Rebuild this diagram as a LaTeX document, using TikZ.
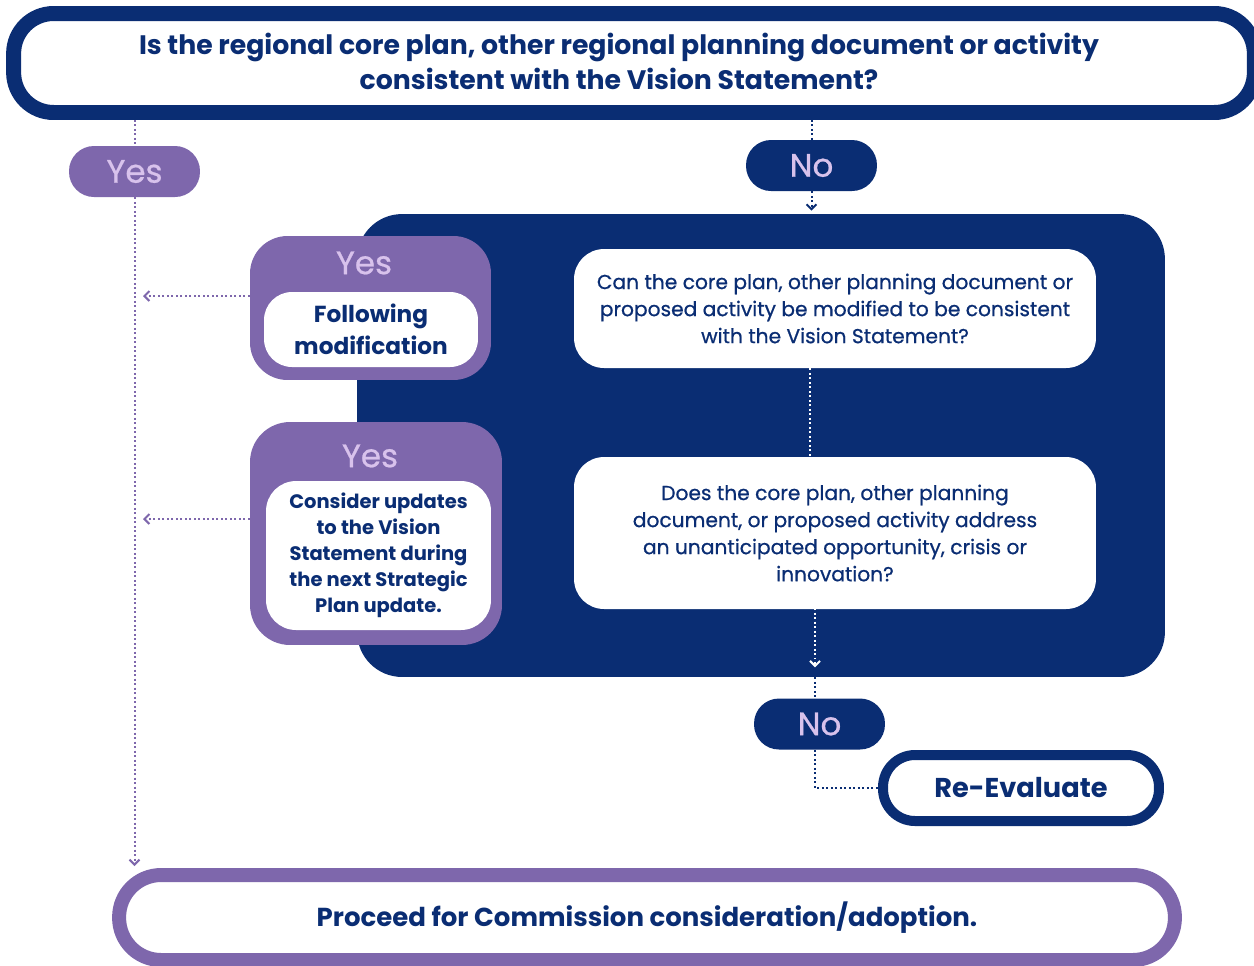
\documentclass[tikz,border=0pt]{standalone}
\usepackage{fontspec}
\setmainfont{Poppins}
\usetikzlibrary{arrows.meta,calc}
\definecolor{navy}{HTML}{0A2D73}
\definecolor{plum}{HTML}{7E67AC}
\definecolor{lilac}{HTML}{D8C2EC}

\begin{document}
\begin{tikzpicture}[x=0.02cm, y=-0.02cm,
    every node/.style={align=center, text=navy, inner sep=0pt},
    medium/.style={font=\fontsize{#1}{18}\selectfont\addfontfeature{FakeBold=0.7}},
    pill/.style={rounded corners=0.5cm, minimum width=2.62cm, minimum height=1.02cm, text=lilac, medium=18.5},
    question/.style={fill=white, rounded corners=0.6cm, minimum width=10.44cm, font=\fontsize{11.5}{15.4}\selectfont\addfontfeature{FakeBold=0.7}},
    yesbox/.style={fill=plum, rounded corners=0.75cm},
    inner/.style={fill=white, rounded corners=0.56cm, font=\bfseries},
    dots/.style={line width=0.04cm, dash pattern=on 0.04cm off 0.05cm},
    tip/.style={-{Straight Barb[length=0.1cm, width=0.2cm, line width=0.04cm]}}
]
    \useasboundingbox (0,0) rectangle (1254,965);
    \clip (0,0) rectangle (1254,965);

    % first question
    \node[draw=navy, line width=0.3cm, fill=white, rounded corners=0.8cm, minimum width=24.82cm, minimum height=1.98cm] (top) at (634,63) {};
    \node[font=\bfseries\fontsize{15.2}{20.2}\selectfont] (toptext) at (619,61.5) {Is the regional core plan, other regional planning document or activity\\consistent with the Vision Statement?};

    \node[pill, fill=plum] (yes) at (134.5,171.5) {Yes};
    \node[pill, fill=navy] (no) at (811.5,165.5) {No};

    % the panel with the follow-up questions
    \node[fill=navy, rounded corners=0.9cm, minimum width=16.16cm, minimum height=9.26cm] (panel) at (761,445.5) {};
    \node[question, minimum height=2.38cm] (q1) at (835,308.5) {Can the core plan, other planning document or\\proposed activity be modified to be consistent\\with the Vision Statement?};
    \node[question, minimum height=3.04cm] (q2) at (835,533) {Does the core plan, other planning\\document, or proposed activity address\\an unanticipated opportunity, crisis or\\innovation?};

    \node[yesbox, minimum width=4.82cm, minimum height=2.88cm] (yes1) at (370.5,308) {};
    \node[text=lilac, medium=18.5] (yes1t) at (364,263) {Yes};
    \node[inner, minimum width=4.28cm, minimum height=1.5cm, font=\bfseries\fontsize{13.2}{18}\selectfont] (mod) at (371,329.5) {Following\\modification};

    \node[yesbox, rounded corners=0.8cm, minimum width=5.04cm, minimum height=4.46cm] (yes2) at (376,533.5) {};
    \node[text=lilac, medium=18.5] (yes2t) at (370,456) {Yes};
    \node[inner, rounded corners=0.6cm, minimum width=4.5cm, minimum height=2.98cm, font=\bfseries\fontsize{11.1}{14.8}\selectfont] (upd) at (378.5,555.5) {Consider updates\\to the Vision\\Statement during\\the next Strategic\\Plan update.};

    \node[pill, fill=navy] (no2) at (819.5,724) {No};
    \node[draw=navy, line width=0.2cm, fill=white, rounded corners=0.64cm, minimum width=5.52cm, minimum height=1.32cm, font=\bfseries\fontsize{15.5}{18}\selectfont] (reval) at (1021,788) {Re-Evaluate};

    \node[draw=plum, line width=0.28cm, fill=white, rounded corners=0.84cm, minimum width=21.12cm, minimum height=1.7cm, font=\bfseries\fontsize{14.8}{18}\selectfont] (final) at (647,917.5) {Proceed for Commission consideration/adoption.};

    % connectors
    \coordinate (l1) at (143,296);
    \coordinate (l2) at (143,519);
    \coordinate (c2) at (815,590);
    \coordinate (turn) at (815,788);

    \draw[dots, plum] (yes.north |- top.south) -- (yes.north);
    \draw[dots, plum, tip] (yes.south) -- ($(yes.south |- final.north)+(0,-2)$);
    \draw[dots, navy] (no.north |- top.south) -- (no.north);
    \draw[dots, navy, tip] (no.south) -- ($(no.south |- panel.north)+(0,-3)$);

    \draw[dots, white] ($(q1.west)+(0,-13)$) -- ($(q1.west)+(0,-13)$ -| yes1.east);
    \draw[dots, white] ($(q2.west)+(0,-14)$) -- ($(q2.west)+(0,-14)$ -| yes2.east);
    \draw[dots, plum, tip] (yes1.west |- l1) -- (l1);
    \draw[dots, plum, tip] (yes2.west |- l2) -- (l2);

    \draw[dots, white] ($(q1.south)+(-25,0)$) -- ($(q2.north)+(-25,0)$);
    \draw[dots, white, tip] (c2) -- ($(c2 |- panel.south)+(0,-10)$);
    \draw[dots, navy] (c2 |- panel.south) -- (c2 |- no2.north);
    \draw[dots, navy] (c2 |- no2.south) -- (turn) -- (reval.west);
\end{tikzpicture}
\end{document}
